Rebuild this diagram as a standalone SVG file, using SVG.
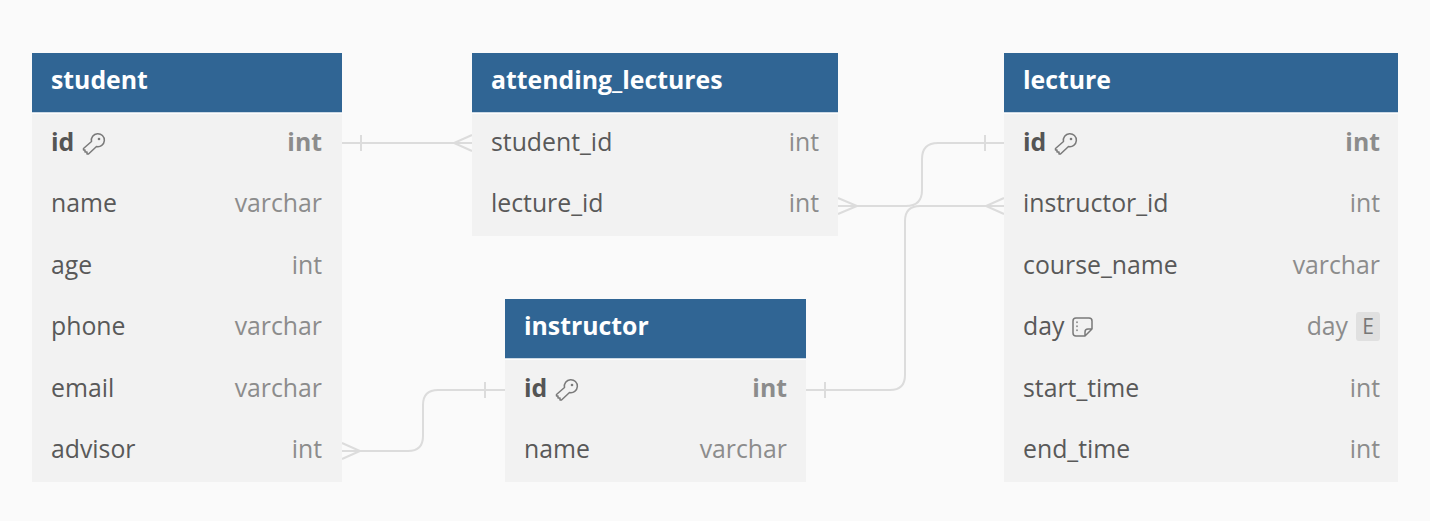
<svg xmlns="http://www.w3.org/2000/svg" width="1430" height="521" viewBox="0 0 1430 521">
  <style>
    .hdr { fill: #306594; }
    .body { fill: #f2f2f2; }
    .sep { stroke: #ffffff; stroke-width: 1.5; }
    .title { font-family: "Open Sans", "Liberation Sans", sans-serif; font-weight: bold; font-size: 24.8px; fill: #ffffff; }
    .fname { font-family: "Open Sans", "Liberation Sans", sans-serif; font-size: 24.8px; fill: #595959; }
    .ftype { font-family: "Open Sans", "Liberation Sans", sans-serif; font-size: 24.8px; fill: #8c8c8c; text-anchor: end; }
    .pk { font-weight: bold; }
    .pkname { fill: #555555; }
    .pktype { fill: #8c8c8c; }
    .icon { fill: none; stroke: #7a7a7a; stroke-width: 1.5; stroke-linecap: round; stroke-linejoin: round; }
    .link { fill: none; stroke: #dcdcdc; stroke-width: 2; }
    .badge { fill: #e0e0e0; }
    .badgetxt { font-family: "Open Sans", "Liberation Sans", sans-serif; font-size: 21px; fill: #777777; text-anchor: middle; }
  </style>
  <defs>
    <!-- key glyph for primary keys, origin at left edge / vertical centre -->
    <g id="key">
      <path class="icon" d="M8.5 -1.5 A6.5 6.5 0 1 1 13.5 3.5 L5.5 11 L4 11 L4 9 L2 9 L2 7 L0.5 7 L0.5 5.5 Z"/>
      <circle cx="16" cy="-4" r="1.3" fill="#7a7a7a"/>
    </g>
    <!-- note glyph -->
    <g id="note">
      <path class="icon" d="M3 -9 h13 a3 3 0 0 1 3 3 v8 l-7 7 h-9 a3 3 0 0 1 -3 -3 v-12 a3 3 0 0 1 3 -3 z M19 2 h-4 a3 3 0 0 0 -3 3 v4"/>
      <path class="icon" d="M4 -5 v0.5 M4 -1 v0.5 M4 3 v0.5"/>
    </g>
  </defs>

  <rect width="1430" height="521" fill="#fafafa"/>

  <!-- relationships -->
  <g id="connectors">
    <!-- student.id  -  attending_lectures.student_id -->
    <path class="link" d="M342 143 H472"/>
    <path class="link" d="M361 135 V151"/>
    <path class="link" d="M472 135 L454 143 L472 151"/>

    <!-- attending_lectures.lecture_id  -  lecture.id -->
    <path class="link" d="M838 206 H906 Q922 206 922 190 V159 Q922 143 938 143 H1004"/>
    <path class="link" d="M838 198 L857 206 L838 214"/>
    <path class="link" d="M985 135 V151"/>

    <!-- instructor.id  -  lecture.instructor_id -->
    <path class="link" d="M806 390 H890 Q905 390 905 375 V221 Q905 206 920 206 H1004"/>
    <path class="link" d="M825 382 V398"/>
    <path class="link" d="M1004 198 L986 206 L1004 214"/>

    <!-- student.advisor  -  instructor.id -->
    <path class="link" d="M342 451 H408 Q423 451 423 436 V405 Q423 390 438 390 H505"/>
    <path class="link" d="M342 443 L360 451 L342 459"/>
    <path class="link" d="M485 382 V398"/>
  </g>

  <!-- student -->
  <g id="student">
    <rect class="body" x="32" y="113" width="310" height="369"/>
    <rect class="hdr" x="32" y="53" width="310" height="60"/>
    <line class="sep" x1="32" y1="113" x2="342" y2="113"/>
    <text class="title" x="51" y="89">student</text>
    <text class="fname pk pkname" x="51" y="151">id</text>
    <use href="#key" x="83" y="143"/>
    <text class="ftype pk pktype" x="322" y="151">int</text>
    <text class="fname" x="51" y="212">name</text>
    <text class="ftype" x="322" y="212">varchar</text>
    <text class="fname" x="51" y="274">age</text>
    <text class="ftype" x="322" y="274">int</text>
    <text class="fname" x="51" y="335">phone</text>
    <text class="ftype" x="322" y="335">varchar</text>
    <text class="fname" x="51" y="397">email</text>
    <text class="ftype" x="322" y="397">varchar</text>
    <text class="fname" x="51" y="458">advisor</text>
    <text class="ftype" x="322" y="458">int</text>
  </g>

  <!-- attending_lectures -->
  <g id="attending_lectures">
    <rect class="body" x="472" y="113" width="366" height="123"/>
    <rect class="hdr" x="472" y="53" width="366" height="60"/>
    <line class="sep" x1="472" y1="113" x2="838" y2="113"/>
    <text class="title" x="491" y="89">attending_lectures</text>
    <text class="fname" x="491" y="151">student_id</text>
    <text class="ftype" x="819" y="151">int</text>
    <text class="fname" x="491" y="212">lecture_id</text>
    <text class="ftype" x="819" y="212">int</text>
  </g>

  <!-- instructor -->
  <g id="instructor">
    <rect class="body" x="505" y="359" width="301" height="123"/>
    <rect class="hdr" x="505" y="299" width="301" height="60"/>
    <line class="sep" x1="505" y1="359" x2="806" y2="359"/>
    <text class="title" x="524" y="335">instructor</text>
    <text class="fname pk pkname" x="524" y="397">id</text>
    <use href="#key" x="556" y="389"/>
    <text class="ftype pk pktype" x="787" y="397">int</text>
    <text class="fname" x="524" y="458">name</text>
    <text class="ftype" x="787" y="458">varchar</text>
  </g>

  <!-- lecture -->
  <g id="lecture">
    <rect class="body" x="1004" y="113" width="394" height="369"/>
    <rect class="hdr" x="1004" y="53" width="394" height="60"/>
    <line class="sep" x1="1004" y1="113" x2="1398" y2="113"/>
    <text class="title" x="1023" y="89">lecture</text>
    <text class="fname pk pkname" x="1023" y="151">id</text>
    <use href="#key" x="1055" y="143"/>
    <text class="ftype pk pktype" x="1380" y="151">int</text>
    <text class="fname" x="1023" y="212">instructor_id</text>
    <text class="ftype" x="1380" y="212">int</text>
    <text class="fname" x="1023" y="274">course_name</text>
    <text class="ftype" x="1380" y="274">varchar</text>
    <text class="fname" x="1023" y="335">day</text>
    <use href="#note" x="1073" y="327"/>
    <text class="ftype" x="1348" y="335">day</text>
    <rect class="badge" x="1356" y="312" width="24" height="29" rx="3"/>
    <text class="badgetxt" x="1368" y="334">E</text>
    <text class="fname" x="1023" y="397">start_time</text>
    <text class="ftype" x="1380" y="397">int</text>
    <text class="fname" x="1023" y="458">end_time</text>
    <text class="ftype" x="1380" y="458">int</text>
  </g>
</svg>
